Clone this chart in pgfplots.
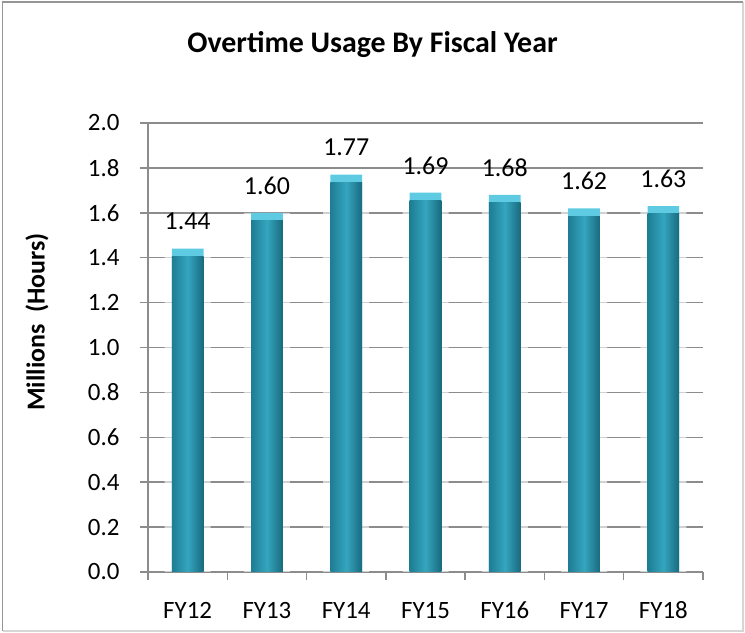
\documentclass[border=0pt]{standalone}
\usepackage{pgfplots}
\pgfplotsset{compat=1.18}
\usepackage{pgfplotstable}
\usepackage{fontspec}
\setmainfont{Carlito}
\definecolor{barmid}{HTML}{35A5BF}
\definecolor{baredgeL}{HTML}{1D7D93}
\definecolor{baredgeR}{HTML}{186A7D}
\definecolor{barcap}{HTML}{5FCBE2}
\definecolor{gridc}{HTML}{8C8C8C}
\definecolor{frameL}{HTML}{959595}
\definecolor{frameB}{HTML}{D6D6D6}
\pgfplotstableread{
x y
1 1.44
2 1.60
3 1.77
4 1.69
5 1.68
6 1.62
7 1.63
}\data
\begin{document}
\begin{tikzpicture}[x=1bp,y=1bp]
\useasboundingbox (0,0) rectangle (745,633);
\fill[white] (0,0) rectangle (745,633);
\draw[frameB, line width=1.5bp] (2.5,2) -- (743,2) -- (743,631);
\draw[frameL, line width=1.5bp] (2.5,2) -- (2.5,631) -- (743,631);
\begin{axis}[
  at={(148bp,61bp)}, anchor=south west,
  scale only axis, width=555bp, height=449bp,
  xmin=0.5, xmax=7.5, ymin=0, ymax=2.0,
  xtick={1,2,3,4,5,6,7},
  xticklabels={FY12,FY13,FY14,FY15,FY16,FY17,FY18},
  minor xtick={0.5,1.5,2.5,3.5,4.5,5.5,6.5,7.5},
  ytick={0,0.2,0.4,0.6,0.8,1.0,1.2,1.4,1.6,1.8,2.0},
  yticklabel style={/pgf/number format/fixed, /pgf/number format/fixed zerofill, /pgf/number format/precision=1, anchor=east, xshift=-17bp},
  /pgf/number format/assume math mode=true,
  axis x line*=bottom, axis y line*=left,
  axis line style={-, draw=gridc, line width=1.5bp},
  tick align=outside,
  major tick length=8bp, minor tick length=8bp,
  major x tick style={draw=none},
  minor x tick style={draw=gridc, line width=1.5bp},
  major y tick style={draw=gridc, line width=1.5bp},
  ymajorgrids,
  major grid style={draw=gridc, line width=1.5bp},
  tick label style={font=\fontsize{25}{30}\selectfont, text=black},
  xticklabel style={anchor=base, yshift=-39bp},
  clip=false,
]
% soft glow around bars
\addplot[ybar, bar width=0.58, bar shift=0pt, draw=none, fill=white, fill opacity=0.6]
  table[x=x, y=y] {\data};
% top cap and value labels
\addplot[ybar, bar width=0.4, bar shift=0pt, draw=none, fill=barcap,
  nodes near coords,
  nodes near coords style={/pgf/number format/fixed, /pgf/number format/fixed zerofill, /pgf/number format/precision=2,
     anchor=center, yshift=27bp, font=\fontsize{26}{31}\selectfont, text=black, fill opacity=1, text opacity=1}]
  table[x=x, y=y] {\data};
% shaded bar bodies, one per bar
\pgfplotsinvokeforeach{1,2,3,4,5,6,7}{
\addplot[ybar, bar width=0.4, bar shift=0pt, draw=none,
  left color=baredgeL, right color=baredgeR, middle color=barmid,
  restrict x to domain=#1:#1]
  table[x=x, y expr=\thisrow{y}-0.035] {\data};
}
\end{axis}
\node[rotate=90, font=\bfseries\fontsize{26}{31}\selectfont] at (37,311) {Millions~~(Hours)};
\node[anchor=base, font=\bfseries\fontsize{30}{36}\selectfont] at (372.5,580) {Overtime Usage By Fiscal Year};
\end{tikzpicture}
\end{document}
